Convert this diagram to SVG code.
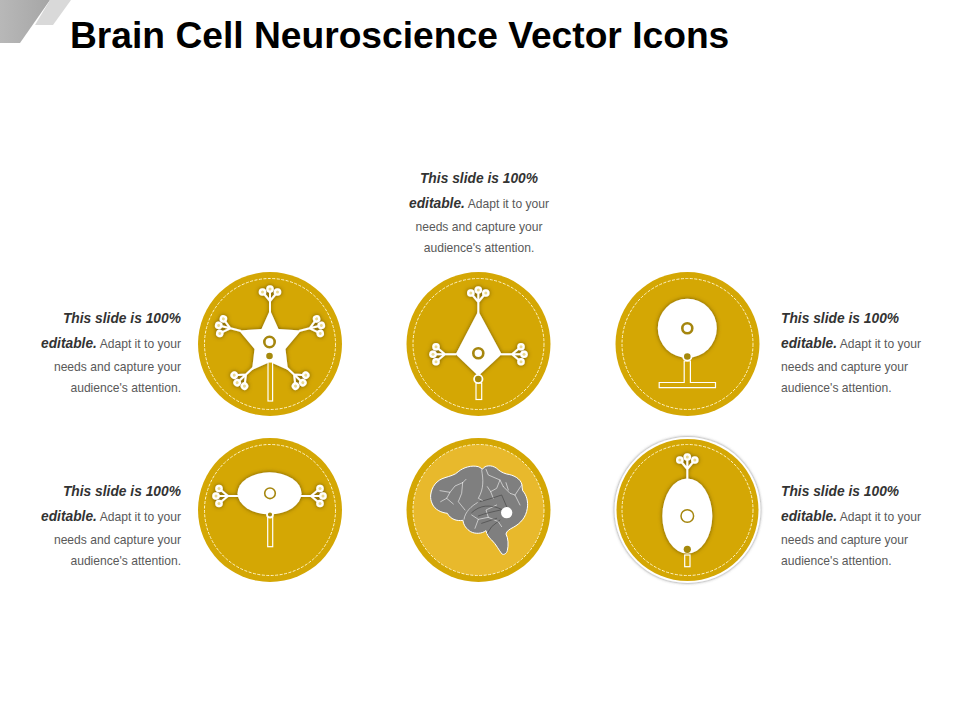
<svg xmlns="http://www.w3.org/2000/svg" xmlns:xlink="http://www.w3.org/1999/xlink" width="960" height="720" viewBox="0 0 960 720">
<style>
.disc{fill:#d4a704}
.dash{fill:none;stroke:#fff3c4;stroke-width:1;stroke-dasharray:3 1.5}
.soma{fill:#fff}
.nuc{fill:#fff;stroke:#a5860e;stroke-width:2.6}
.dot{fill:#a5890c;stroke:#fff;stroke-width:1.8}
.axon{fill:#d4a704;stroke:#fff;stroke-width:1.2}
.tl{fill:none;stroke:#fff;stroke-width:2}
.tc{fill:#fff;stroke:none}
.ti{fill:#e9d98f}
text{font-family:"Liberation Sans",Arial,sans-serif}
.t{font-size:12.1px;fill:#595959}
.b{font-size:13.8px;font-weight:bold;font-style:italic;fill:#333}
.fis{fill:none;stroke:#fff;stroke-width:1.7;stroke-linecap:round;stroke-linejoin:round}
.drk{fill:none;stroke:#3f3f3f;stroke-width:1.8;stroke-linecap:round}
</style>
<defs>
<linearGradient id="cg" x1="0" y1="0" x2="1" y2="0"><stop offset="0" stop-color="#b8b8b8"/><stop offset="1" stop-color="#a6a6a6"/></linearGradient>
<filter id="sh" x="-30%" y="-30%" width="160%" height="160%"><feDropShadow dx="0" dy="0" stdDeviation="2" flood-color="#5f4c00" flood-opacity=".85"/></filter>
<filter id="rim" x="-10%" y="-10%" width="120%" height="120%"><feDropShadow dx="0" dy="0" stdDeviation="1.6" flood-color="#555" flood-opacity=".8"/></filter>
<g id="tuft">
<path class="tl" d="M0 0V-11M0 -11L-7.5 -20M0 -11L0 -23M0 -11L7.5 -20"/>
<circle class="tc" cx="-7.5" cy="-20" r="3.8"/><circle class="tc" cx="0" cy="-23" r="3.8"/><circle class="tc" cx="7.5" cy="-20" r="3.8"/>
<circle class="ti" cx="-7.5" cy="-20" r="1.5"/><circle class="ti" cx="0" cy="-23" r="1.5"/><circle class="ti" cx="7.5" cy="-20" r="1.5"/>
</g>
</defs>
<rect width="960" height="720" fill="#fff"/>
<g id="corner">
<polygon points="0,0 50,0 20,43 0,43" fill="url(#cg)"/>
<polygon points="50,0 71,0 53,25 35,25" fill="#d9d9d9"/>
</g>
<text id="title" x="70" y="48" font-size="37.2" font-weight="bold" fill="#000">Brain Cell Neuroscience Vector Icons</text>

<g id="node-star">
<circle class="disc" cx="270" cy="344" r="72"/>
<circle class="dash" cx="270" cy="344" r="65.5"/>
<g filter="url(#sh)">
<path class="soma" d="M270 310L278.500 329L301 330.500L285.500 349L288 370L270 362L252 370L254.500 349L239 330.500L261.500 329Z"/>
<use xlink:href="#tuft" transform="translate(270,312)"/>
<use xlink:href="#tuft" transform="translate(299,331) rotate(76)"/>
<use xlink:href="#tuft" transform="translate(241,331) rotate(-76)"/>
<use xlink:href="#tuft" transform="translate(286,367) rotate(133)"/>
<use xlink:href="#tuft" transform="translate(254,367) rotate(-133)"/>
</g>
<rect class="axon" x="268" y="362" width="4.6" height="39"/>
<circle class="dot" cx="269.500" cy="356" r="4.200"/>
<circle class="nuc" cx="269.500" cy="342" r="5.200"/>
</g>

<g id="node-diamond">
<circle class="disc" cx="478.500" cy="344" r="72"/>
<circle class="dash" cx="478.500" cy="344" r="65.5"/>
<g filter="url(#sh)">
<path class="soma" d="M478.300 311L501.700 354.300L478.300 376L455.700 354.300Z"/>
<use xlink:href="#tuft" transform="translate(478.300,313)"/>
<use xlink:href="#tuft" transform="translate(501,354.300) rotate(90)"/>
<use xlink:href="#tuft" transform="translate(456,354.300) rotate(-90)"/>
</g>
<rect class="axon" x="476" y="383" width="5.700" height="16.500"/>
<circle class="dot" cx="478.300" cy="379" r="4.200"/>
<circle class="nuc" cx="478.300" cy="353.300" r="5"/>
</g>

<g id="node-round">
<circle class="disc" cx="687.500" cy="344" r="72"/>
<circle class="dash" cx="687.500" cy="344" r="65.5"/>
<circle class="soma" cx="687.300" cy="328.300" r="29.500" filter="url(#sh)"/>
<path class="axon" d="M684.200 361V382.500H659.200V387.700H715.500V382.500H690.400V361Z"/>
<circle class="dot" cx="687.300" cy="356.500" r="4.200"/>
<circle class="nuc" cx="687.300" cy="328.300" r="5"/>
</g>

<g id="node-oval-wide">
<circle class="disc" cx="270" cy="510" r="72"/>
<circle class="dash" cx="270" cy="510" r="65.5"/>
<g filter="url(#sh)">
<ellipse class="soma" cx="269.500" cy="493.300" rx="32" ry="21"/>
<use xlink:href="#tuft" transform="translate(300,496) rotate(90)"/>
<use xlink:href="#tuft" transform="translate(239,496) rotate(-90)"/>
</g>
<rect class="axon" x="267.700" y="517" width="5" height="29.700"/>
<circle class="dot" cx="270" cy="514.500" r="3"/>
<circle class="nuc" cx="270" cy="493.300" r="5.300" style="stroke-width:1.6"/>
</g>

<g id="node-brain">
<circle cx="478.500" cy="510" r="72" fill="#d4a704"/>
<circle cx="478.500" cy="510" r="65.5" fill="#e8b92c"/>
<circle class="dash" cx="478.500" cy="510" r="65.5"/>
<g transform="translate(400,430) scale(.3333)">
<path d="M92 195C95 170 110 150 135 143C150 138 165 135 175 125C190 112 215 105 235 110C242 113 245 116 247 118C255 105 275 104 290 115C298 122 305 128 320 132C340 135 362 145 366 165C367 172 366 176 368 182C380 195 385 215 382 235C378 262 362 280 340 292C328 298 320 303 318 312C325 325 326 345 322 362C320 370 312 376 306 372C296 360 290 345 275 330C265 322 260 312 258 302C245 312 225 312 212 305C200 298 190 285 189 271C170 274 152 268 142 250C125 248 105 240 97 222C93 213 91 205 92 195Z" fill="#7f7f7f" stroke="#fff" stroke-width="3"/>
<path class="fis" d="M120 182L150 187L165 168L188 158M150 187L140 205L160 222M188 158L198 148M188 158L185 190L175 215L195 240M122 215L140 205M245 120C250 150 252 175 235 205L248 212M258 118L265 135L300 150L310 170M300 150L290 175L272 185L280 205M310 170L330 190L345 195L360 225M318 158L325 180M345 195L365 165M232 218C215 228 195 245 192 268M215 255L235 268L265 262L295 275M265 262L258 240L290 225M235 268L225 295M295 275L305 290M272 185L262 170"/>
<path class="drk" d="M215 248C240 225 270 222 305 238M240 215L275 205L305 195L320 230M235 258C255 250 280 245 302 240M300 270L275 290L262 310M245 280L290 265"/>
<circle cx="320" cy="248" r="17" fill="#fff"/>
</g>
</g>

<g id="node-oval-tall">
<circle cx="687.500" cy="510" r="73" fill="#fff" filter="url(#rim)"/>
<circle class="disc" cx="687.500" cy="510" r="71"/>
<circle class="dash" cx="687.500" cy="510" r="65.5"/>
<g filter="url(#sh)">
<ellipse class="soma" cx="687.300" cy="516" rx="25" ry="37.500"/>
<use xlink:href="#tuft" transform="translate(687.300,480)"/>
</g>
<rect class="axon" x="684.700" y="555" width="5.300" height="11.700"/>
<circle class="dot" cx="687.300" cy="549.300" r="3.600" style="stroke:none"/>
<circle class="nuc" cx="687.300" cy="516" r="6.300" style="stroke-width:1.5"/>
</g>

<g id="label-top" text-anchor="middle">
<text class="b" x="479" y="183">This slide is 100%</text>
<text x="479" y="208"><tspan class="b">editable.</tspan><tspan class="t"> Adapt it to your</tspan></text>
<text class="t" x="479" y="231">needs and capture your</text>
<text class="t" x="479" y="252">audience's attention.</text>
</g>
<g id="label-left-top" text-anchor="end">
<text class="b" x="181" y="323">This slide is 100%</text>
<text x="181" y="348"><tspan class="b">editable.</tspan><tspan class="t"> Adapt it to your</tspan></text>
<text class="t" x="181" y="371">needs and capture your</text>
<text class="t" x="181" y="392">audience's attention.</text>
</g>
<g id="label-left-bottom" text-anchor="end">
<text class="b" x="181" y="496">This slide is 100%</text>
<text x="181" y="521"><tspan class="b">editable.</tspan><tspan class="t"> Adapt it to your</tspan></text>
<text class="t" x="181" y="544">needs and capture your</text>
<text class="t" x="181" y="565">audience's attention.</text>
</g>
<g id="label-right-top">
<text class="b" x="781" y="323">This slide is 100%</text>
<text x="781" y="348"><tspan class="b">editable.</tspan><tspan class="t"> Adapt it to your</tspan></text>
<text class="t" x="781" y="371">needs and capture your</text>
<text class="t" x="781" y="392">audience's attention.</text>
</g>
<g id="label-right-bottom">
<text class="b" x="781" y="496">This slide is 100%</text>
<text x="781" y="521"><tspan class="b">editable.</tspan><tspan class="t"> Adapt it to your</tspan></text>
<text class="t" x="781" y="544">needs and capture your</text>
<text class="t" x="781" y="565">audience's attention.</text>
</g>
</svg>
